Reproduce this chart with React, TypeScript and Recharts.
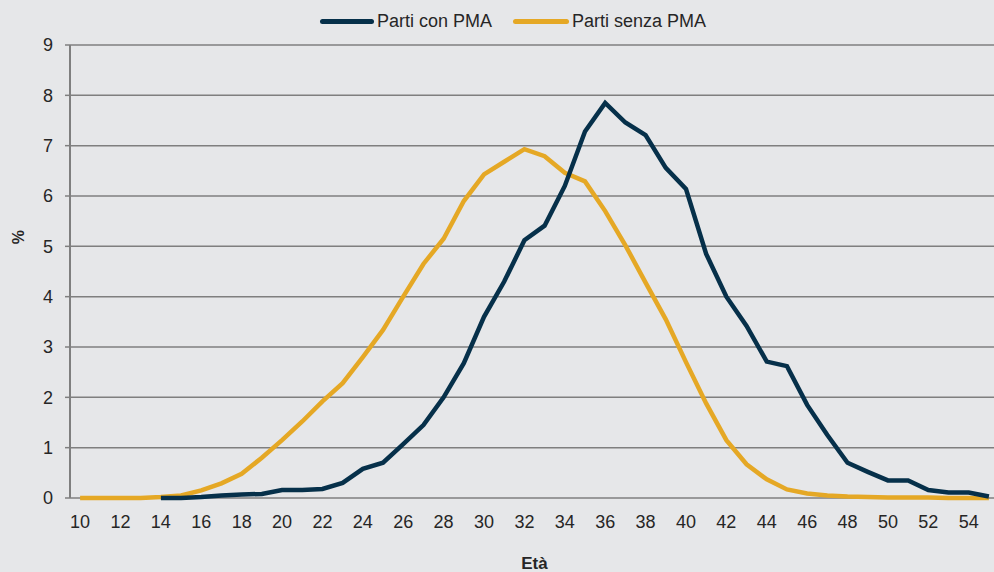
import { LineChart, Line, XAxis, YAxis, CartesianGrid, Legend, Label } from "recharts";

const ages = [10, 11, 12, 13, 14, 15, 16, 17, 18, 19, 20, 21, 22, 23, 24, 25, 26, 27, 28, 29, 30, 31, 32, 33, 34, 35, 36, 37, 38, 39, 40, 41, 42, 43, 44, 45, 46, 47, 48, 49, 50, 51, 52, 53, 54, 55];

const conPMA = [null, null, null, null, 0, 0, 0.02, 0.05, 0.07, 0.08, 0.16, 0.16, 0.18, 0.3, 0.58, 0.7, 1.07, 1.45, 2.0, 2.68, 3.6, 4.3, 5.12, 5.41, 6.2, 7.28, 7.85, 7.46, 7.21, 6.56, 6.14, 4.85, 4.0, 3.42, 2.71, 2.62, 1.85, 1.25, 0.7, 0.52, 0.35, 0.35, 0.16, 0.11, 0.11, 0.03];

const senzaPMA = [0, 0, 0, 0, 0.02, 0.05, 0.15, 0.29, 0.48, 0.8, 1.15, 1.52, 1.92, 2.28, 2.8, 3.34, 4.0, 4.65, 5.15, 5.9, 6.43, 6.68, 6.93, 6.79, 6.46, 6.29, 5.7, 5.02, 4.28, 3.55, 2.7, 1.88, 1.15, 0.67, 0.37, 0.17, 0.09, 0.05, 0.03, 0.02, 0.01, 0.01, 0.01, 0, 0, 0];

const xLabels = [10, 12, 14, 16, 18, 20, 22, 24, 26, 28, 30, 32, 34, 36, 38, 40, 42, 44, 46, 48, 50, 52, 54];
const yTicks = [0, 1, 2, 3, 4, 5, 6, 7, 8, 9];

const data = ages.map((eta, i) => ({ eta, con: conPMA[i], senza: senzaPMA[i] }));
// tick marks sit between the categories
const bounds = ages.map((a) => a - 0.5).concat(ages[ages.length - 1] + 0.5);

const DARK = "#06304a";
const GOLD = "#e5a825";
const GRID = "#7f7f7f";
const FONT = "'Liberation Sans', Arial, sans-serif";

const LegendBox = () => (
  <div style={{ display: "flex", alignItems: "center", height: 30, paddingLeft: 320, fontFamily: FONT, fontSize: 18, color: "#262626" }}>
    <span style={{ width: 54, height: 5, borderRadius: 3, background: DARK, marginRight: 3 }} />
    <span style={{ marginRight: 21 }}>Parti con PMA</span>
    <span style={{ width: 56, height: 5, borderRadius: 3, background: GOLD, marginRight: 3 }} />
    <span>Parti senza PMA</span>
  </div>
);

export default function App() {
  return (
    <div style={{ position: "absolute", left: 0, top: 0, width: 994, height: 572, overflow: "hidden", background: "#e6e7e9" }}>
      <LineChart width={999} height={572} data={data} margin={{ top: 15, right: 0, left: 0, bottom: 0 }}>
        <CartesianGrid vertical={false} stroke={GRID} strokeWidth={1.5} />
        <Legend verticalAlign="top" content={<LegendBox />} wrapperStyle={{ top: 6, left: 0 }} />
        <XAxis
          xAxisId="t"
          dataKey="eta"
          type="number"
          domain={[9.5, 55.5]}
          ticks={bounds}
          tickFormatter={() => ""}
          tickSize={5}
          height={0}
          stroke={GRID}
          axisLine={{ stroke: GRID, strokeWidth: 2 }}
          tickLine={{ stroke: GRID, strokeWidth: 1.5 }}
        />
        <XAxis
          dataKey="eta"
          type="number"
          domain={[9.5, 55.5]}
          ticks={xLabels}
          interval={0}
          height={74}
          tickSize={0}
          tickMargin={17}
          axisLine={false}
          tickLine={false}
          tick={{ fontSize: 18, fill: "#262626", fontFamily: FONT }}
        >
          <Label value="Età" position="insideBottom" offset={3} style={{ fontSize: 17, fontWeight: "bold", fill: "#262626", fontFamily: FONT }} />
        </XAxis>
        <YAxis
          type="number"
          domain={[0, 9]}
          ticks={yTicks}
          interval={0}
          width={70}
          tickSize={5}
          tickMargin={12}
          axisLine={{ stroke: GRID, strokeWidth: 2 }}
          tickLine={{ stroke: GRID, strokeWidth: 1.5 }}
          tick={{ fontSize: 18, fill: "#262626", fontFamily: FONT }}
          label={{
            content: () => (
              <text x={18} y={237} transform="rotate(-90 18 237)" textAnchor="middle" dominantBaseline="central" style={{ fontSize: 16, fontWeight: "bold", fill: "#262626", fontFamily: FONT }}>
                %
              </text>
            ),
          }}
        />
        <Line dataKey="senza" name="Parti senza PMA" stroke={GOLD} strokeWidth={4.5} dot={false} isAnimationActive={false} />
        <Line dataKey="con" name="Parti con PMA" stroke={DARK} strokeWidth={4.5} dot={false} isAnimationActive={false} />
      </LineChart>
    </div>
  );
}
